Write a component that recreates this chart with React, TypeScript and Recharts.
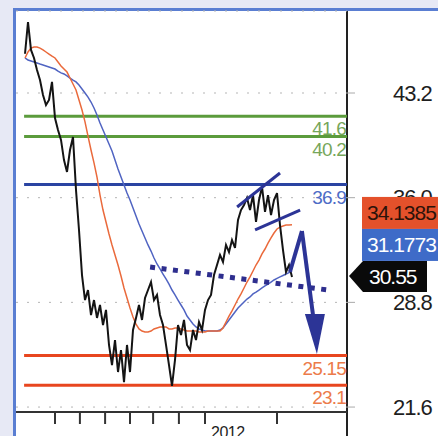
import React from 'react';
import { LineChart, Line, XAxis, YAxis, CartesianGrid, ReferenceLine, ReferenceDot } from 'recharts';

// weekly closes and two moving averages, first point is week 3
const firstWeek = 3;
const closes = [
  45.9, 48.08, 46.16, 45.61, 44.78, 44.09, 43.06, 42.37, 42.72, 43.96,
  41.48, 40.66, 39.97, 38.59, 37.77, 39.28, 40.17, 36.53, 33.78, 30.68,
  28.96, 29.65, 27.93, 28.96, 27.73, 28.62, 27.24, 28.28, 25.87, 24.49,
  26.21, 24.01, 25.52, 23.32, 25.87, 24.01, 26.9, 27.73, 28.62, 27.59,
  29.1, 29.65, 30.2, 28.96, 29.31, 27.93, 27.24, 25.87, 24.49, 23.05,
  24.84, 27.24, 26.56, 27.59, 25.87, 25.52, 26.9, 26.21, 27.45, 26.9,
  28.28, 28.96, 29.31, 30.68, 31.37, 32.06, 31.58, 32.75, 32.26, 33.09,
  32.54, 34.47, 35.15, 35.5, 35.98, 35.15, 36.18, 34.33, 35.84, 36.74,
  35.02, 36.18, 34.81, 35.84, 36.32, 34.12, 32.4, 30.89, 31.37, 30.55,
];
const fastAvg = [
  45.61, 46.02, 46.29, 46.36, 46.36, 46.29, 46.16, 46.02, 45.88, 45.74,
  45.61, 45.33, 45.06, 44.85, 44.64, 44.23, 43.82, 43.41, 42.72, 42.03,
  41.21, 40.24, 39.28, 38.39, 37.42, 36.18, 35.15, 34.33, 33.5, 32.75,
  32.06, 31.37, 30.61, 29.79, 29.1, 28.41, 27.79, 27.31, 26.97, 26.83,
  26.76, 26.76, 26.83, 26.97, 27.04, 27.11, 27.11, 27.11, 26.97, 26.97,
  27.04, 27.04, 26.97, 26.9, 26.83, 26.83, 26.83, 26.83, 26.76, 26.76,
  26.76, 26.83, 26.83, 26.83, 26.83, 26.83, 27.04, 27.45, 27.86, 28.21,
  28.62, 29.03, 29.38, 29.79, 30.2, 30.55, 30.96, 31.37, 31.71, 32.13,
  32.47, 32.88, 33.23, 33.57, 33.85, 33.98, 34.05, 34.12, 34.13, 34.14,
];
const slowAvg = [
  45.61, 45.47, 45.4, 45.33, 45.26, 45.19, 45.13, 45.06, 44.99, 44.92,
  44.85, 44.71, 44.58, 44.51, 44.37, 44.23, 44.09, 43.96, 43.75, 43.48,
  43.2, 42.92, 42.58, 42.17, 41.69, 41.14, 40.66, 40.17, 39.69, 39.21,
  38.59, 37.97, 37.42, 36.87, 36.32, 35.84, 35.29, 34.74, 34.19, 33.71,
  33.23, 32.75, 32.33, 31.85, 31.44, 31.1, 30.75, 30.41, 30.06, 29.65,
  29.31, 28.96, 28.62, 28.28, 27.86, 27.59, 27.31, 27.11, 26.97, 26.9,
  26.83, 26.83, 26.83, 26.83, 26.83, 26.9, 27.04, 27.31, 27.59, 27.86,
  28.14, 28.41, 28.62, 28.83, 29.03, 29.17, 29.38, 29.51, 29.65, 29.79,
  29.93, 30.06, 30.2, 30.34, 30.45, 30.55, 30.65, 30.75, 30.85, 30.95,
];

const priceTicks = [21.6, 28.8, 36.0, 43.2];
const monthTicks = [13, 21.3, 29.7, 38, 45.7, 54.3, 63, 87];
const yearLabels: Record<number, string> = { 63: '2012' };
const weekMax = 110.33;
const levelStart = 2.7;

const levels = [
  { value: 41.6, line: '#5b9b3c', text: '#76a65a' },
  { value: 40.2, line: '#5b9b3c', text: '#76a65a' },
  { value: 36.9, line: '#2a44a2', text: '#4d6cc6' },
  { value: 25.15, line: '#e8461f', text: '#ec7b4a' },
  { value: 23.1, line: '#e8461f', text: '#ec7b4a' },
];

const trendLine = [{ t: 44.7, v: 31.23 }, { t: 104, v: 29.65 }];
const wedgeTop = [{ t: 73.7, v: 35.36 }, { t: 88, v: 37.7 }];
const wedgeBottom = [{ t: 79.7, v: 33.78 }, { t: 94.7, v: 35.15 }];
const arrowPath = [{ t: 91.3, v: 30.89 }, { t: 95.3, v: 33.71 }, { t: 99, v: 27.93 }];
const arrowTip = { t: 100.3, v: 25.25 };

const lastClose = 30.55;
const tags = [
  { text: '34.1385', bg: '#e4512b', fg: '#2c130a' },
  { text: '31.1773', bg: '#3e6bc8', fg: '#ffffff' },
];

const rows = closes.map((c, i) => ({
  t: firstWeek + i,
  close: c,
  fast: fastAvg[i],
  slow: slowAvg[i],
}));

const navy = '#2c3496';
const font = '"Liberation Sans", Arial, sans-serif';

const LevelLabel = (props: any) => {
  const { viewBox, text, color } = props;
  if (!viewBox) return null;
  return (
    <text x={viewBox.x + viewBox.width - 1} y={viewBox.y + 12.5} dy="0.35em" textAnchor="end"
      fontFamily={font} fontSize={19} letterSpacing={-0.8} fill={color}>
      {text}
    </text>
  );
};

const PriceTick = (props: any) => {
  const { x, y, payload } = props;
  return (
    <text x={x} y={y} dy="0.35em" textAnchor="start" fontFamily={font} fontSize={22}
      letterSpacing={-1} fill="#1e1e1e">
      {payload.value.toFixed(1)}
    </text>
  );
};

const MonthTick = (props: any) => {
  const { x, y, payload } = props;
  const label = yearLabels[payload.value];
  if (!label) return <g />;
  return (
    <text x={x + 6} y={y} dy="0.72em" textAnchor="start" fontFamily={font} fontSize={16}
      letterSpacing={-0.5} fill="#1e1e1e">
      {label}
    </text>
  );
};

const ArrowHead = (props: any) => {
  const { cx, cy } = props;
  return <polygon points={`${cx - 12},${cy - 40} ${cx + 8},${cy - 40} ${cx},${cy}`} fill={navy} />;
};

const TagStack = (props: any) => {
  const { cx, cy } = props;
  const w = 80;
  return (
    <g fontFamily={font} letterSpacing={-1}>
      {tags.map((tag, i) => {
        const top = cy - 80 + i * 32;
        return (
          <g key={tag.text}>
            <rect x={cx + 15} y={top} width={w} height={32} fill={tag.bg} />
            <text x={cx + 20} y={top + 16} dy="0.35em" fontSize={21} fill={tag.fg}>{tag.text}</text>
          </g>
        );
      })}
      <polygon
        points={`${cx + 2},${cy - 1} ${cx + 16},${cy - 16} ${cx + w},${cy - 16} ${cx + w},${cy + 15} ${cx + 16},${cy + 15}`}
        fill="#0a0a0a"
      />
      <text x={cx + 22} y={cy} dy="0.35em" fontSize={21} fill="#ffffff">{lastClose.toFixed(2)}</text>
    </g>
  );
};

const App: React.FC = () => {
  return (
    <div style={{ position: 'fixed', left: 0, top: 0, width: 438, height: 436, background: '#e7e9f5', overflow: 'hidden' }}>
      <div style={{ position: 'absolute', left: 13, top: 8, right: 0, bottom: 0, background: '#fff', borderLeft: '3px solid #5a7ed2', borderTop: '3px solid #5a7ed2' }} />
      <div style={{ position: 'absolute', left: 346, top: 11, width: 2, bottom: 0, background: '#222' }} />
      <div style={{ position: 'absolute', left: 0, top: 0 }}>
        <LineChart width={438} height={436} data={rows} margin={{ top: 11, right: 0, left: 16, bottom: 0 }}>
          <CartesianGrid vertical={false} stroke="#b5b5b5" strokeDasharray="2 9" />
          <XAxis dataKey="t" type="number" domain={[0, weekMax]} ticks={monthTicks} interval={0}
            height={24} tickSize={12} tick={<MonthTick />}
            axisLine={{ stroke: '#333', strokeWidth: 2 }} tickLine={{ stroke: '#333', strokeWidth: 2 }} />
          <YAxis orientation="right" width={91} domain={[21.26, 48.84]} ticks={priceTicks} interval={0}
            tick={<PriceTick />} tickSize={8} tickMargin={38} axisLine={false}
            tickLine={{ stroke: '#aaa' }} allowDataOverflow />
          {levels.map((lv) => (
            <ReferenceLine key={lv.value}
              segment={[{ x: levelStart, y: lv.value }, { x: weekMax, y: lv.value }]}
              stroke={lv.line} strokeWidth={3}
              label={<LevelLabel text={String(lv.value)} color={lv.text} />} />
          ))}
          <Line dataKey="slow" stroke="#5064c2" strokeWidth={1.5} dot={false} isAnimationActive={false} />
          <Line dataKey="fast" stroke="#ea6a3c" strokeWidth={1.5} dot={false} isAnimationActive={false} />
          <Line dataKey="close" stroke="#141414" strokeWidth={2} dot={false} isAnimationActive={false} />
          <ReferenceLine segment={trendLine.map((p) => ({ x: p.t, y: p.v }))}
            stroke="#2e2e8e" strokeWidth={5} strokeDasharray="5 6.5" />
          <ReferenceLine segment={wedgeTop.map((p) => ({ x: p.t, y: p.v }))} stroke={navy} strokeWidth={3} />
          <ReferenceLine segment={wedgeBottom.map((p) => ({ x: p.t, y: p.v }))} stroke={navy} strokeWidth={3} />
          {arrowPath.slice(1).map((p, i) => (
            <ReferenceLine key={i} segment={[{ x: arrowPath[i].t, y: arrowPath[i].v }, { x: p.t, y: p.v }]}
              stroke={navy} strokeWidth={4} />
          ))}
          <ReferenceDot x={arrowTip.t} y={arrowTip.v} r={1} shape={ArrowHead} ifOverflow="visible" />
          <ReferenceDot x={weekMax} y={lastClose} r={1} shape={TagStack} ifOverflow="visible" zIndex={3000} />
        </LineChart>
      </div>
    </div>
  );
};

export default App;
